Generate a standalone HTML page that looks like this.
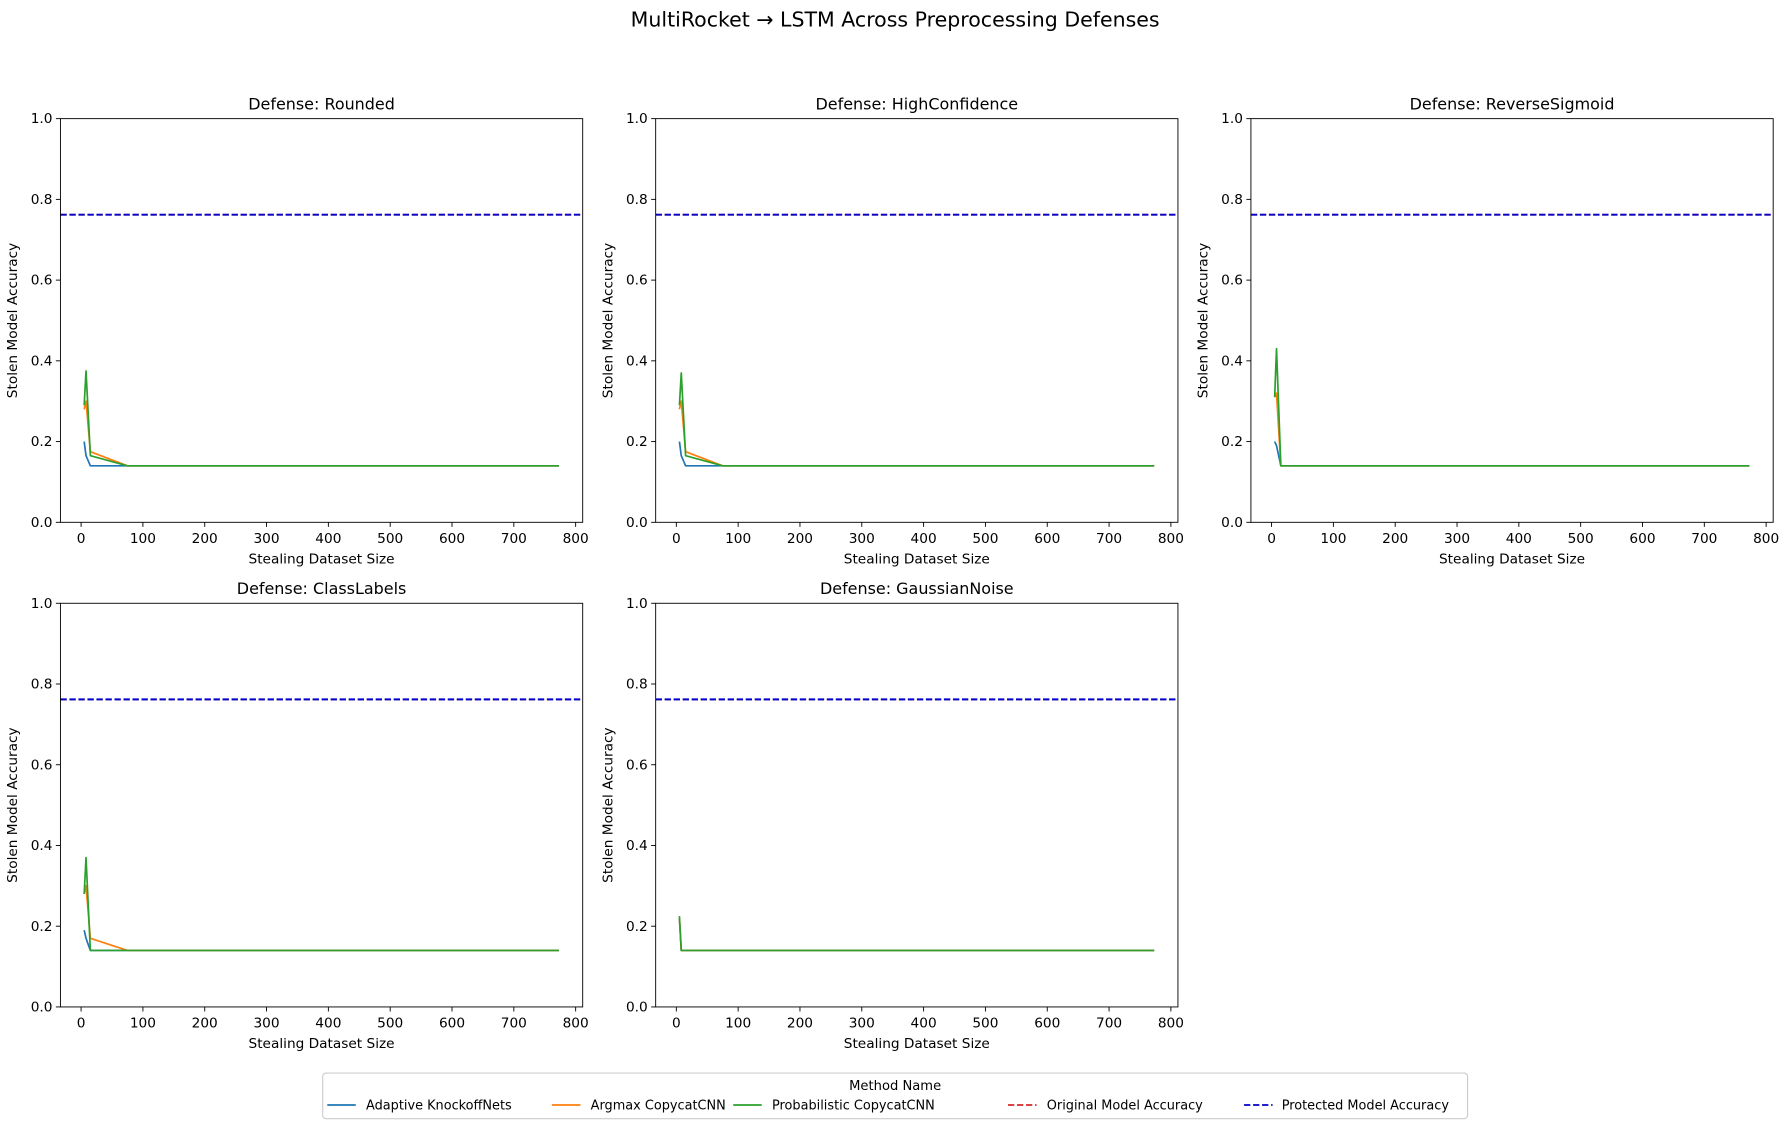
<!DOCTYPE html>
<html><head><meta charset="utf-8"><style>html,body{margin:0;padding:0;background:#fff}svg{display:block}text{font-family:"DejaVu Sans","Liberation Sans",sans-serif;fill:#000}</style></head>
<body>
<svg id="fig" width="1788" height="1129" viewBox="0 0 1568 990" xmlns="http://www.w3.org/2000/svg">
<rect width="1568" height="990" fill="#fff"/>
<text x="785" y="23" font-size="18" text-anchor="middle">MultiRocket → LSTM Across Preprocessing Defenses</text>
<g id="plots"></g>
<g>
<rect x="283" y="941" width="1004" height="40" rx="3" fill="#fff" stroke="#ccc"/>
<text x="785" y="956" font-size="11.5" text-anchor="middle">Method Name</text>
<g><line x1="287" y1="969" x2="312" y2="969" stroke="#1f77b4" stroke-width="1.5"/><text x="321" y="973" font-size="11.3">Adaptive KnockoffNets</text></g>
<g><line x1="484" y1="969" x2="509" y2="969" stroke="#ff7f0e" stroke-width="1.5"/><text x="518" y="973" font-size="11.3">Argmax CopycatCNN</text></g>
<g><line x1="643" y1="969" x2="668" y2="969" stroke="#2ca02c" stroke-width="1.5"/><text x="677" y="973" font-size="11.3">Probabilistic CopycatCNN</text></g>
<g><line x1="884" y1="969" x2="909" y2="969" stroke="#d62728" stroke-width="1.5" stroke-dasharray="5.5,2.4"/><text x="918" y="973" font-size="11.3">Original Model Accuracy</text></g>
<g><line x1="1091" y1="969" x2="1116" y2="969" stroke="#0000cc" stroke-width="1.5" stroke-dasharray="5.5,2.4"/><text x="1124" y="973" font-size="11.3">Protected Model Accuracy</text></g>
</g>
</svg>
<script>
const xs = [5, 8, 15, 75, 773];
const defenses = ["Rounded", "HighConfidence", "ReverseSigmoid", "ClassLabels", "GaussianNoise"];
const adaptive = [
 [0.20, 0.165, 0.14, 0.14, 0.14],
 [0.20, 0.165, 0.14, 0.14, 0.14],
 [0.20, 0.19, 0.14, 0.14, 0.14],
 [0.19, 0.17, 0.14, 0.14, 0.14],
 [0.22, 0.14, 0.14, 0.14, 0.14]
];
const argmax = [
 [0.28, 0.30, 0.175, 0.14, 0.14],
 [0.28, 0.30, 0.175, 0.14, 0.14],
 [0.31, 0.32, 0.14, 0.14, 0.14],
 [0.28, 0.30, 0.17, 0.14, 0.14],
 [0.22, 0.14, 0.14, 0.14, 0.14]
];
const probabilistic = [
 [0.29, 0.375, 0.165, 0.14, 0.14],
 [0.29, 0.37, 0.165, 0.14, 0.14],
 [0.31, 0.43, 0.14, 0.14, 0.14],
 [0.28, 0.37, 0.14, 0.14, 0.14],
 [0.225, 0.14, 0.14, 0.14, 0.14]
];
const originalAcc = [0.762, 0.762, 0.762, 0.762, 0.762];
const protectedAcc = [0.762, 0.762, 0.762, 0.762, 0.762];
const xTicks = [0, 100, 200, 300, 400, 500, 600, 700, 800];
const yTicks = [0.0, 0.2, 0.4, 0.6, 0.8, 1.0];

const NS = "http://www.w3.org/2000/svg";
const root = document.getElementById("plots");
const boxes = [[53,104],[575,104],[1097,104],[53,529],[575,529]];
const W = 458, H = 354, XMIN = -33.4, XMAX = 811.4;
function mk(tag, attrs, parent){const e=document.createElementNS(NS,tag);for(const k in attrs)e.setAttribute(k,attrs[k]);parent.appendChild(e);return e;}
defenses.forEach((d, i) => {
  const [L, T] = boxes[i];
  const sx = v => L + (v - XMIN) / (XMAX - XMIN) * W;
  const sy = v => T + H - v * H;
  const g = mk("g", {}, root);
  
  
  const t = mk("text", {x: L + W/2, y: T - 8, "font-size": 14, "text-anchor": "middle"}, g);
  t.textContent = "Defense: " + d;
  
  
  xTicks.forEach(v => {
    mk("line", {x1: sx(v), x2: sx(v), y1: T+H, y2: T+H+4, stroke: "#000", "stroke-width": 0.8}, g);
    const tx = mk("text", {x: sx(v), y: T+H+18, "font-size": 12, "text-anchor": "middle"}, g);
    tx.textContent = v;
    
    
  });
  yTicks.forEach(v => {
    mk("line", {x1: L-4, x2: L, y1: sy(v), y2: sy(v), stroke: "#000", "stroke-width": 0.8}, g);
    const ty = mk("text", {x: L-7, y: sy(v)+4, "font-size": 12, "text-anchor": "end"}, g);
    ty.textContent = v.toFixed(1);
    
    
  });
  const xl = mk("text", {x: L + W/2, y: T+H+36, "font-size": 12, "text-anchor": "middle"}, g);
  xl.textContent = "Stealing Dataset Size";
  
  
  const yl = mk("text", {x: 0, y: 0, "font-size": 12, "text-anchor": "middle", transform: `translate(${L-38},${T+H/2}) rotate(-90)`}, g);
  yl.textContent = "Stolen Model Accuracy";
  
  
  const clip = "c" + i;
  const cp = mk("clipPath", {id: clip}, g);
  mk("rect", {x: L, y: T, width: W, height: H}, cp);
  const pg = mk("g", {"clip-path": `url(#${clip})`}, g);
  [[adaptive[i], "#1f77b4", "line-adaptive"], [argmax[i], "#ff7f0e", "line-argmax"], [probabilistic[i], "#2ca02c", "line-probabilistic"]].forEach(([arr, c, n]) => {
    const p = mk("polyline", {points: arr.map((v, k) => sx(xs[k]) + "," + sy(v)).join(" "), fill: "none", stroke: c, "stroke-width": 1.5, "stroke-linejoin": "round"}, pg);
    
    
  });
  const o = mk("line", {x1: L, x2: L+W, y1: sy(originalAcc[i]), y2: sy(originalAcc[i]), stroke: "#d62728", "stroke-width": 1.5, "stroke-dasharray": "5.5,2.4"}, pg);
  
  
  const pr = mk("line", {x1: L, x2: L+W, y1: sy(protectedAcc[i]), y2: sy(protectedAcc[i]), stroke: "#0000cc", "stroke-width": 1.7, "stroke-dasharray": "5.5,2.4"}, pg);
  
  
  mk("rect", {x: L, y: T, width: W, height: H, fill: "none", stroke: "#000", "stroke-width": 0.8}, g);
});
</script>
</body></html>
